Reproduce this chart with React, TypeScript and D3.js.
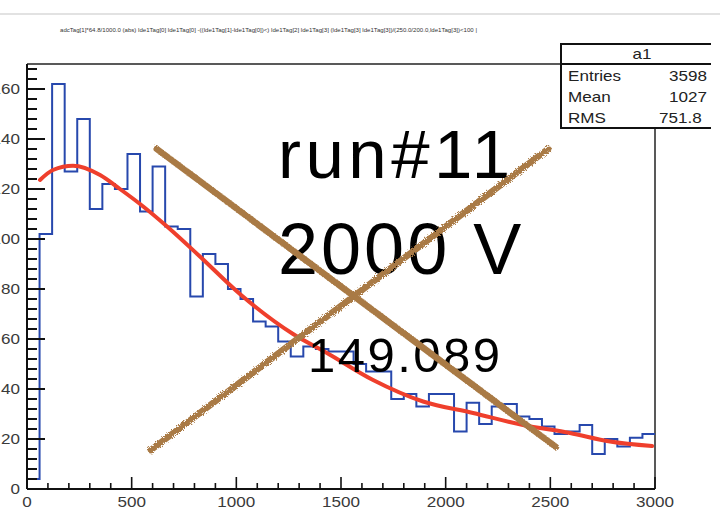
import * as d3 from "d3";

// ── Data ──────────────────────────────────────────────────────────────────────

const BIN_WIDTH = 60;
const X_MAX = 3000;
const Y_MAX = 170;

// entries per 60-wide bin
const counts = [
  4, 102, 162, 127, 148, 112, 122, 120, 134, 111,
  129, 105, 104, 77, 94, 90, 80, 76, 67, 65,
  59, 53, 57, 56, 55, 55, 50, 47, 47, 36,
  38, 33, 38, 38, 23, 34.5, 26, 33, 34, 29,
  28, 25, 22, 23, 25.6, 14, 20, 17, 20.5, 22,
];

// red fit curve, sampled points
const fitX = [62, 124, 220, 349, 444, 540, 669, 826, 1017, 1271, 1433, 1653, 1892, 2131, 2369, 2594, 2785, 2986];
const fitY = [123.6, 127.6, 129.3, 125.6, 120, 114, 105, 93, 78, 62, 54.4, 43.6, 35, 30.4, 25.6, 22.4, 19, 17.2];

const xTickLabels = [0, 500, 1000, 1500, 2000, 2500, 3000];
const yTickLabels = [0, 20, 40, 60, 80, 100, 120, 140, 160];

const statsTitle = "a1";
const statsNames = ["Entries", "Mean", "RMS"];
const statsValues = ["3598", "1027", "751.8"];

const histTitle =
  "adcTag[1]*64.8/1000.0 (abs) lde1Tag[0] lde1Tag[0] -((lde1Tag[1]-lde1Tag[0])<) lde1Tag[2] lde1Tag[3] (lde1Tag[3] lde1Tag[3])/(250.0/200.0,lde1Tag[3])<100 |";

// hand-drawn cross, endpoints in data units [x1, y1, x2, y2]
const crossLines = [
  [620, 136, 2527, 16.8],
  [592, 15.6, 2489, 136],
];

const notes = ["run#11", "2000 V", "149.089"];

// ── Layout ────────────────────────────────────────────────────────────────────

const W = 724;
const H = 509;
const FRAME = { left: 27, right: 655, top: 64, bottom: 489 };
const ROOT_FONT = "'Liberation Sans', Arial, Helvetica, sans-serif";
const SX = 1.22; // the ROOT canvas looks stretched horizontally

export default function App() {
  const x = d3.scaleLinear().domain([0, X_MAX]).range([FRAME.left, FRAME.right]);
  const y = d3.scaleLinear().domain([0, Y_MAX]).range([FRAME.bottom, FRAME.top]);

  // step outline of the histogram
  const stepPts: [number, number][] = [[x(0), y(0)]];
  counts.forEach((c, i) => {
    stepPts.push([x(i * BIN_WIDTH), y(c)]);
    stepPts.push([x((i + 1) * BIN_WIDTH), y(c)]);
  });
  const histPath = d3.line()(stepPts) ?? "";

  const fitPath =
    d3
      .line<number>()
      .x((_, i) => x(fitX[i]))
      .y((d) => y(d))
      .curve(d3.curveMonotoneX)(fitY) ?? "";

  const xMinor = d3.range(0, X_MAX + 1, 100);
  const yMinor = d3.range(0, Y_MAX + 0.1, 4);

  return (
    <svg
      width={W}
      height={H}
      style={{ position: "absolute", left: 0, top: 0, background: "white" }}
    >
      <defs>
        <filter id="chalk" x="-5%" y="-5%" width="110%" height="110%">
          <feTurbulence type="fractalNoise" baseFrequency="0.9" numOctaves={2} seed={3} result="n" />
          <feDisplacementMap in="SourceGraphic" in2="n" scale={4} />
        </filter>
        <clipPath id="statsClip">
          <rect x={0} y={0} width={711} height={H} />
        </clipPath>
      </defs>

      <rect width={W} height={H} fill="white" />

      {/* separator at the top of the capture */}
      <line x1={0} x2={720} y1={14} y2={14} stroke="#e2e2e2" strokeWidth={2} />

      {/* histogram title */}
      <text
        x={60}
        y={32}
        fontSize={5.5}
        fontFamily={ROOT_FONT}
        fill="#333"
        textLength={417}
        lengthAdjust="spacingAndGlyphs"
      >
        {histTitle}
      </text>

      {/* frame */}
      <line x1={FRAME.left} x2={FRAME.right} y1={FRAME.top} y2={FRAME.top} stroke="#222" strokeWidth={1.5} />
      <line x1={FRAME.right} x2={FRAME.right} y1={FRAME.top} y2={FRAME.bottom} stroke="#222" strokeWidth={1.5} />

      {/* histogram */}
      <path d={histPath} fill="none" stroke="#2748ad" strokeWidth={2} />

      {/* fit */}
      <path d={fitPath} fill="none" stroke="#ef3f2c" strokeWidth={4} strokeLinecap="round" />

      {/* axes */}
      <g stroke="#111">
        <line x1={FRAME.left} x2={FRAME.left} y1={FRAME.top} y2={FRAME.bottom} strokeWidth={2} />
        <line x1={FRAME.left} x2={FRAME.right} y1={FRAME.bottom} y2={FRAME.bottom} strokeWidth={2} />
        {yMinor.map((v) => {
          const major = v % 20 === 0;
          return (
            <line
              key={`ym${v}`}
              x1={FRAME.left}
              x2={FRAME.left + (major ? 18 : 10)}
              y1={y(v)}
              y2={y(v)}
              strokeWidth={2}
            />
          );
        })}
        {xMinor.map((v) => {
          const major = v % 500 === 0;
          return (
            <line
              key={`xm${v}`}
              x1={x(v)}
              x2={x(v)}
              y1={FRAME.bottom}
              y2={FRAME.bottom - (major ? 12 : 6)}
              strokeWidth={1.6}
            />
          );
        })}
      </g>

      <g fontFamily={ROOT_FONT} fontSize={14} fill="#3a3a3a">
        {yTickLabels.map((v) => (
          <text
            key={`yl${v}`}
            transform={`translate(20,${y(v) + 5}) scale(${SX},1)`}
            textAnchor="end"
          >
            {v}
          </text>
        ))}
        {xTickLabels.map((v) => (
          <text
            key={`xl${v}`}
            transform={`translate(${x(v)},${507}) scale(${SX},1)`}
            textAnchor="middle"
          >
            {v}
          </text>
        ))}
      </g>

      {/* stats box */}
      <g clipPath="url(#statsClip)" fontFamily={ROOT_FONT} fontSize={14} fill="#222">
        <rect x={561} y={44} width={200} height={84} fill="white" stroke="#111" strokeWidth={2} />
        <line x1={561} x2={761} y1={64} y2={64} stroke="#111" strokeWidth={2} />
        <text transform={`translate(642,59) scale(${SX},1)`} textAnchor="middle">
          {statsTitle}
        </text>
        {statsNames.map((n, i) => (
          <text key={n} transform={`translate(568,${81 + i * 21}) scale(${SX},1)`}>
            {n}
          </text>
        ))}
        {statsValues.map((v, i) => (
          <text key={v} transform={`translate(${i === 2 ? 659 : 669},${81 + i * 21}) scale(${SX},1)`}>
            {v}
          </text>
        ))}
      </g>

      {/* overlaid notes */}
      <g fontFamily="'Liberation Sans', Arial, sans-serif" fill="#000">
        <text x={278} y={178} fontSize={69} letterSpacing={4.5}>
          {notes[0]}
        </text>
        <text x={278} y={274} fontSize={72} letterSpacing={3}>
          {notes[1]}
        </text>
        <text x={308} y={372} fontSize={49} letterSpacing={2.5}>
          {notes[2]}
        </text>
      </g>

      {/* hand-drawn cross */}
      <g filter="url(#chalk)">
        {crossLines.map(([x1, y1, x2, y2], i) => (
          <line
            key={i}
            x1={x(x1)}
            y1={y(y1)}
            x2={x(x2)}
            y2={y(y2)}
            stroke="#a97a45"
            strokeWidth={6.5}
            strokeLinecap="round"
          />
        ))}
      </g>
    </svg>
  );
}
